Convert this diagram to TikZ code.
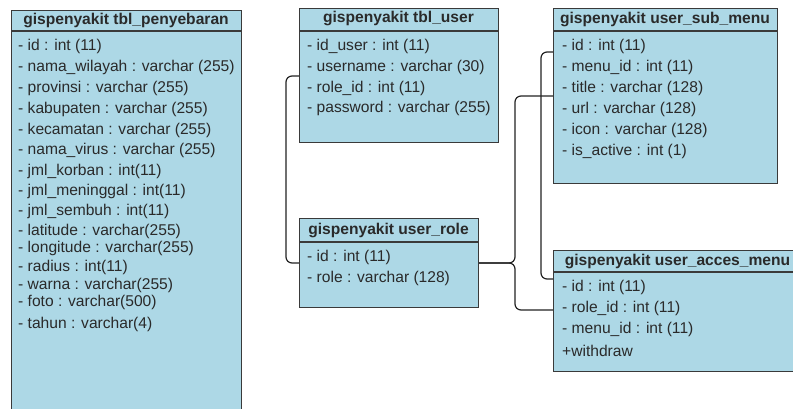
\documentclass[tikz,border=0pt]{standalone}
\usepackage{fontspec}
\setmainfont{Liberation Sans}
\definecolor{tblfill}{HTML}{ADD8E6}
\definecolor{bordc}{HTML}{3A3A3A}
\definecolor{txtc}{HTML}{2A2A2A}
\definecolor{linec}{HTML}{222222}
\begin{document}
\begin{tikzpicture}[x=1pt,y=-1pt,
  tbl/.style={draw=bordc, line width=1.2pt, fill=tblfill, rectangle, inner sep=0pt, anchor=north west},
  sepline/.style={draw=bordc, line width=1.8pt},
  hdr/.style={font=\fontsize{15.6}{18}\selectfont\bfseries, text=txtc, inner sep=0pt, anchor=center},
  fld/.style={font=\fontsize{15.6}{18}\selectfont, text=txtc, inner sep=0pt, anchor=west},
  link/.style={draw=linec, line width=1.2pt, rounded corners=6pt}]
\useasboundingbox (0,0) rectangle (793,408);

% tbl_penyebaran
\node[tbl, minimum width=230pt, minimum height=406pt] (pen) at (11,9.5) {};
\draw[sepline] (11,31) -- (241,31);
\node[hdr] (penh) at (126,20) {gispenyakit tbl\_penyebaran};
\foreach \t/\y [count=\i] in {
  - id : int (11)/46,
  - nama\_wilayah : varchar (255)/67,
  - provinsi : varchar (255)/88,
  - kabupaten : varchar (255)/109,
  - kecamatan : varchar (255)/130,
  - nama\_virus : varchar (255)/150,
  - jml\_korban : int(11)/171,
  - jml\_meninggal : int(11)/191,
  - jml\_sembuh : int(11)/211,
  - latitude : varchar(255)/231,
  - longitude : varchar(255)/248,
  - radius : int(11)/267,
  - warna : varchar(255)/285,
  - foto : varchar(500)/302,
  - tahun : varchar(4)/324}
  \node[fld] (pen\i) at (18,\y) {\t};

% tbl_user
\node[tbl, minimum width=199pt, minimum height=134.5pt] (usr) at (299,7.5) {};
\draw[sepline] (299,31) -- (498,31);
\node[hdr] (usrh) at (398.5,18.5) {gispenyakit tbl\_user};
\foreach \t/\y [count=\i] in {
  - id\_user : int (11)/46,
  - username : varchar (30)/67,
  - role\_id : int (11)/88,
  - password : varchar (255)/108}
  \node[fld] (usr\i) at (307,\y) {\t};

% user_role
\node[tbl, minimum width=179pt, minimum height=89pt] (role) at (299,218) {};
\draw[sepline] (299,242) -- (478,242);
\node[hdr] (roleh) at (388.5,230) {gispenyakit user\_role};
\foreach \t/\y [count=\i] in {
  - id : int (11)/257,
  - role : varchar (128)/278}
  \node[fld] (role\i) at (307,\y) {\t};

% user_sub_menu
\node[tbl, minimum width=224pt, minimum height=175.5pt] (sub) at (553,7.5) {};
\draw[sepline] (553,31) -- (777,31);
\node[hdr] (subh) at (665,19) {gispenyakit user\_sub\_menu};
\foreach \t/\y [count=\i] in {
  - id : int (11)/46,
  - menu\_id : int (11)/67,
  - title : varchar (128)/88,
  - url : varchar (128)/109,
  - icon : varchar (128)/130,
  - is\_active : int (1)/151}
  \node[fld] (sub\i) at (562,\y) {\t};

% user_acces_menu
\node[tbl, minimum width=249pt, minimum height=121pt] (acc) at (553,250) {};
\draw[sepline] (553,272) -- (802,272);
\node[hdr] (acch) at (677.5,261) {gispenyakit user\_acces\_menu};
\foreach \t/\y [count=\i] in {
  - id : int (11)/287,
  - role\_id : int (11)/308,
  - menu\_id : int (11)/329,
  +withdraw/351}
  \node[fld] (acc\i) at (562,\y) {\t};

% connector helper coordinates
\coordinate (yA) at (0,76);
\coordinate (yB) at (0,263);
\coordinate (xA) at (286,0);
\coordinate (yC) at (0,52);
\coordinate (yD) at (0,279);
\coordinate (xC) at (541,0);
\coordinate (xJ) at (515,0);
\coordinate (yE) at (0,96);
\coordinate (yF) at (0,310);

% connectors
\draw[link] (usr.west |- yA) -- (xA |- yA) -- (xA |- yB) -- (role.west |- yB);
\draw[link] (sub.west |- yC) -- (xC |- yC) -- (xC |- yD) -- (acc.west |- yD);
\draw[link] (role.east |- yB) -- (xJ |- yB) -- (xJ |- yE) -- (sub.west |- yE);
\draw[link] (role.east |- yB) -- (xJ |- yB) -- (xJ |- yF) -- (acc.west |- yF);
\end{tikzpicture}
\end{document}
